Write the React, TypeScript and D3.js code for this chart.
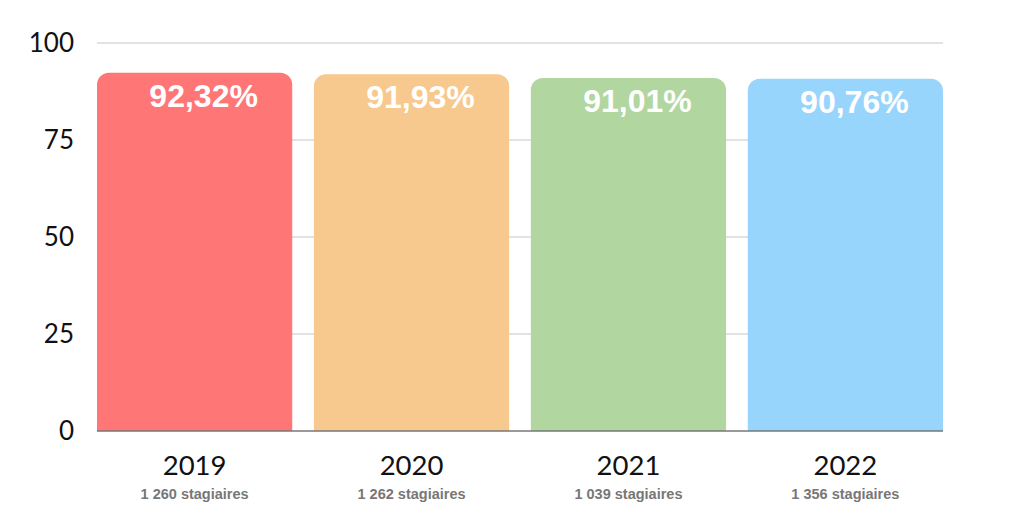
import React from 'react';
import * as d3 from 'd3';

const years = ['2019', '2020', '2021', '2022'];
const rates = [92.32, 91.93, 91.01, 90.76];
const rateLabels = ['92,32%', '91,93%', '91,01%', '90,76%'];
const traineeLabels = ['1 260 stagiaires', '1 262 stagiaires', '1 039 stagiaires', '1 356 stagiaires'];
const barColors = ['#ff7676', '#f7c98e', '#b1d69f', '#98d5fc'];
const yTicks = [0, 25, 50, 75, 100];

const width = 1019, height = 520;
const margin = { top: 43, right: 76, bottom: 89, left: 97 };

// rounded top corners only
function topRoundedRect(x: number, y: number, w: number, h: number, r: number) {
  const p = d3.path();
  p.moveTo(x, y + h);
  p.lineTo(x, y + r);
  p.arcTo(x, y, x + r, y, r);
  p.lineTo(x + w - r, y);
  p.arcTo(x + w, y, x + w, y + r, r);
  p.lineTo(x + w, y + h);
  p.closePath();
  return p.toString();
}

const App: React.FC = () => {
  const x = d3.scaleBand<string>()
    .domain(years)
    .range([margin.left, width - margin.right])
    .paddingInner(0.1)
    .paddingOuter(0);
  const y = d3.scaleLinear().domain([0, 100]).range([height - margin.bottom, margin.top]);

  return (
    <svg width={width} height={height} style={{ position: 'absolute', left: 0, top: 0, background: '#fff' }}>
      {/* gridlines */}
      {yTicks.filter(t => t > 0).map(t => (
        <line key={t} x1={margin.left} x2={width - margin.right} y1={y(t)} y2={y(t)}
          stroke="#c6c6c6" strokeWidth={1} />
      ))}
      {/* y tick labels */}
      {yTicks.map(t => (
        <text key={'l' + t} x={74} y={y(t)} dy="0.36em" textAnchor="end"
          fontFamily="Lato" fontSize={26} fill="#111">{t}</text>
      ))}
      {/* bars */}
      {years.map((yr, i) => {
        const bx = x(yr) as number;
        const bw = x.bandwidth();
        const top = y(rates[i]);
        return (
          <g key={yr}>
            <path d={topRoundedRect(bx, top, bw, y(0) - top, 12)} fill={barColors[i]} />
            <text x={bx + bw / 2 + 9} y={top + 34} textAnchor="middle"
              fontFamily="Liberation Sans, Arial" fontWeight="bold" fontSize={32} fill="#fff">
              {rateLabels[i]}
            </text>
            <text x={bx + bw / 2} y={475} textAnchor="middle"
              fontFamily="Lato" fontSize={27.5} fill="#111">{yr}</text>
            <text x={bx + bw / 2} y={499} textAnchor="middle"
              fontFamily="Liberation Sans, Arial" fontWeight="bold" fontSize={14.5} fill="#777">
              {traineeLabels[i]}
            </text>
          </g>
        );
      })}
      {/* baseline */}
      <line x1={margin.left} x2={width - margin.right} y1={y(0)} y2={y(0)} stroke="#777" strokeWidth={1.5} />
    </svg>
  );
};

export default App;
